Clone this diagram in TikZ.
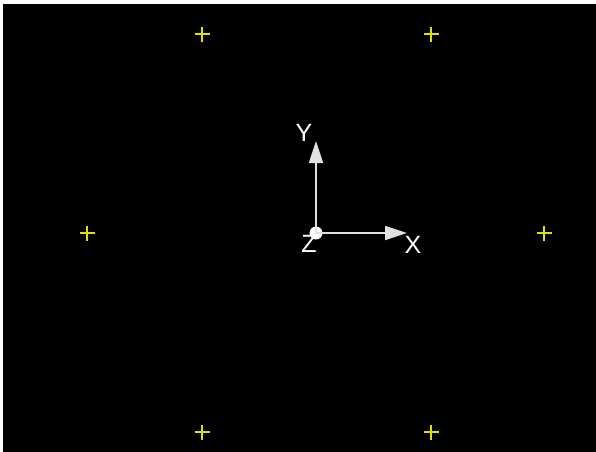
\documentclass[tikz,border=0pt]{standalone}
\usepackage{fontspec}
\setmainfont{Liberation Sans}
\usetikzlibrary{arrows.meta}
\definecolor{markyellow}{RGB}{225,225,0}
\definecolor{axisgray}{RGB}{225,225,225}
\tikzset{
  plusmark/.pic={\draw[markyellow,line width=1.8pt] (-7.5,0) -- (7.5,0) (0,-7.5) -- (0,7.5);},
  axisline/.style={draw=axisgray,line width=1.8pt,-{Triangle[length=22pt,width=14pt]}},
  axislabel/.style={text=white,font=\fontsize{25}{25}\selectfont,inner sep=0pt},
}
\begin{document}
\begin{tikzpicture}[x=1pt,y=-1pt]
\useasboundingbox (0,0) rectangle (596,451);
\fill[white] (0,0) rectangle (596,451);
\fill[black] (3,4) rectangle (605,460);
% markers
\foreach \n/\px/\py in {a/202/34, b/431/34, c/87/233, d/544/233, e/202/432, f/431/432}
  \pic at (\px,\py) {plusmark};
% axes
\node[circle,fill=white,inner sep=0pt,minimum size=13pt] (o) at (316,233) {};
\coordinate (xt) at (407,233);
\coordinate (yt) at (316,141);
\draw[axisline] (o.center) -- (xt);
\draw[axisline] (o.center) -- (yt);
\node[axislabel] (xl) at (413,245) {X};
\node[axislabel] (yl) at (304,133) {Y};
\node[axislabel] (zl) at (309,244) {Z};
\end{tikzpicture}
\end{document}
